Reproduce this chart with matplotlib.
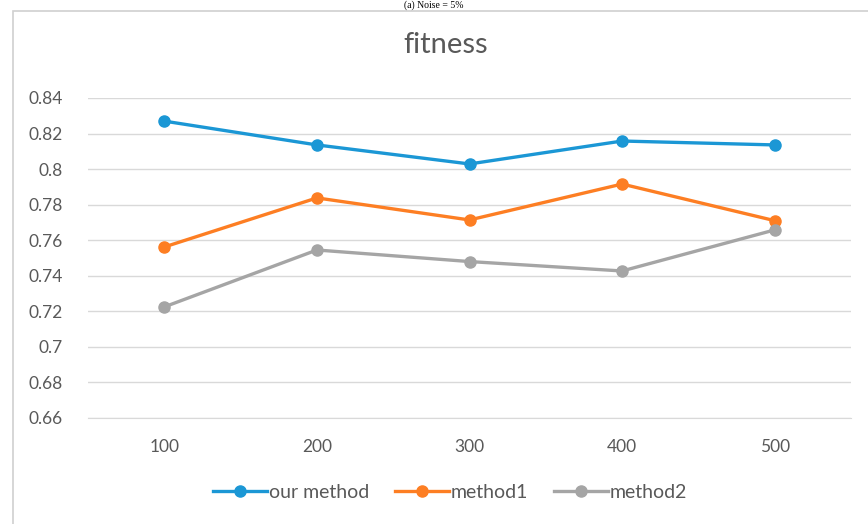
import matplotlib
matplotlib.use('Agg')
import matplotlib.pyplot as plt
from matplotlib.patches import Rectangle

sizes = ['100', '200', '300', '400', '500']
our_method = [0.827, 0.8136, 0.8029, 0.8158, 0.8136]
method1 = [0.7562, 0.7838, 0.7714, 0.7916, 0.7710]
method2 = [0.7225, 0.7545, 0.7480, 0.7427, 0.7658]
yticks = [0.66, 0.68, 0.7, 0.72, 0.74, 0.76, 0.78, 0.8, 0.82, 0.84]
ylabels = ['0.66', '0.68', '0.7', '0.72', '0.74', '0.76', '0.78', '0.8', '0.82', '0.84']

plt.rcParams['font.family'] = ['Lato', 'DejaVu Sans']
txt = '#595959'

fig = plt.figure(figsize=(8.68, 5.24), dpi=100)

# caption strip above the chart frame
fig.text(0.5, 1 - 5/524, '(a) Noise = 5%', ha='center', va='center', fontsize=7,
         family=['Liberation Serif'], color='black')
fig.patches.append(Rectangle((13/868, -0.1), 1.0, 1 - 11/524 + 0.1, transform=fig.transFigure,
                             fill=False, edgecolor='#d0d0d0', lw=1.2))

ax = fig.add_axes([88/868, 1 - 418/524, 763/868, 320/524])
x = range(len(sizes))
ax.plot(x, our_method, '-o', color='#1b97d5', lw=2.4, ms=8, label='our method', zorder=3)
ax.plot(x, method1, '-o', color='#fd7e23', lw=2.4, ms=8, label='method1', zorder=3)
ax.plot(x, method2, '-o', color='#a5a5a5', lw=2.4, ms=8, label='method2', zorder=3)

ax.set_xlim(-0.5, 4.5)
ax.set_ylim(0.66, 0.84)
ax.set_yticks(yticks)
ax.set_yticklabels(ylabels)
ax.set_xticks(list(x))
ax.set_xticklabels(sizes)
ax.grid(axis='y', color='#d9d9d9', lw=1)
ax.set_axisbelow(True)
for s in ['top', 'right', 'left']:
    ax.spines[s].set_visible(False)
ax.spines['bottom'].set_color('#d9d9d9')
ax.tick_params(length=0, labelsize=12.5, colors=txt)
ax.tick_params(axis='y', pad=18)
ax.tick_params(axis='x', pad=15)

fig.text(446/868, 1 - 45/524, 'fitness', ha='center', va='center', fontsize=21, color=txt)

fig.legend(loc='center', bbox_to_anchor=(450/868, 1 - 492/524), ncol=3, frameon=False,
           fontsize=14, labelcolor=txt, handlelength=2.8, handletextpad=0.1, columnspacing=1.3)

fig.savefig('out.png', dpi=100)
